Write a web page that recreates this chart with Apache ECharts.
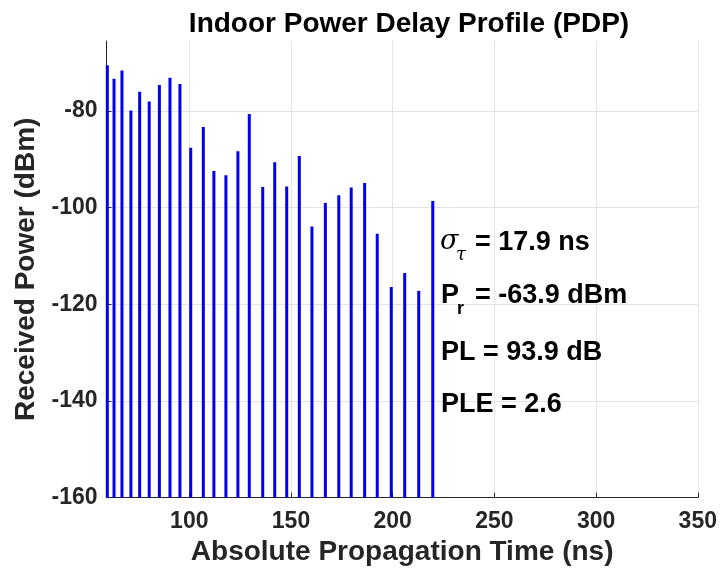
<!DOCTYPE html>
<html>
<head>
<meta charset="utf-8">
<title>Indoor Power Delay Profile (PDP)</title>
<script src="https://cdn.jsdelivr.net/npm/echarts@6/dist/echarts.min.js"></script>
<style>
  html, body { margin: 0; padding: 0; background: #fff; }
  #chart { width: 722px; height: 578px; }
</style>
</head>
<body>
<div id="chart"></div>
<script>
// multipath components
var delays = [59.7, 63.0, 66.9, 71.3, 75.6, 80.3, 85.3, 90.5, 95.4, 100.7,
  106.9, 112.1, 118.0, 123.9, 129.5, 136.1, 142.0, 147.9, 154.1, 160.3,
  166.9, 173.5, 179.6, 186.2, 192.4, 199.3, 205.9, 212.8, 219.7]
var powers = [-70.5, -73.3, -71.6, -79.9, -76.0, -78.0, -74.6, -73.1, -74.4, -87.6,
  -83.3, -92.4, -93.3, -88.3, -80.6, -95.7, -90.6, -95.6, -89.3, -103.9,
  -99.0, -97.4, -95.8, -94.9, -105.4, -116.4, -113.5, -117.2, -98.6]

var xTicks = [100, 150, 200, 250, 300, 350]
var yTicks = [-160, -140, -120, -100, -80]

var xMin = 59.3, xMax = 350
var yMin = -160, yMax = -65.5

var font = "'Liberation Sans', Arial, Helvetica, sans-serif"
var txt = '#262626'
var stemColor = '#0000ee'

var chart = echarts.init(document.getElementById('chart'))

chart.setOption({
  animation: false,
  title: {
    text: 'Indoor Power Delay Profile (PDP)',
    left: 404,
    top: 5,
    textAlign: 'center',
    textStyle: { fontFamily: font, fontSize: 28, fontWeight: 'bold', color: '#000' }
  },
  grid: { left: 106.5, right: 24.2, top: 41, bottom: 80.3, containLabel: false },
  xAxis: {
    type: 'value',
    min: xMin,
    max: xMax,
    name: 'Absolute Propagation Time (ns)',
    nameLocation: 'middle',
    nameGap: 41,
    nameTextStyle: { fontFamily: font, fontSize: 28, fontWeight: 'bold', color: txt },
    axisLine: { onZero: false, lineStyle: { color: txt, width: 1 } },
    axisTick: { inside: true, length: 5, customValues: xTicks, lineStyle: { color: txt } },
    axisLabel: {
      customValues: xTicks, margin: 12,
      fontFamily: font, fontSize: 23, fontWeight: 'bold', color: txt
    },
    splitLine: { show: true, lineStyle: { color: '#e3e3e3', width: 1 } }
  },
  yAxis: {
    type: 'value',
    min: yMin,
    max: yMax,
    name: 'Received Power (dBm)',
    nameLocation: 'middle',
    nameGap: 62,
    nameTextStyle: { fontFamily: font, fontSize: 28, fontWeight: 'bold', color: txt },
    axisLine: { show: true, onZero: false, lineStyle: { color: txt, width: 1 } },
    axisTick: { show: true, inside: true, length: 5, customValues: yTicks, lineStyle: { color: txt } },
    axisLabel: {
      customValues: yTicks, margin: 9,
      fontFamily: font, fontSize: 23, fontWeight: 'bold', color: txt
    },
    splitLine: { show: true, lineStyle: { color: '#e3e3e3', width: 1 } }
  },
  series: [{
    type: 'custom',
    data: delays.map(function (d, i) { return [d, powers[i]] }),
    encode: { x: 0, y: 1 },
    renderItem: function (params, api) {
      var top = api.coord([api.value(0), api.value(1)])
      var base = api.coord([api.value(0), yMin])
      return {
        type: 'line',
        shape: { x1: base[0], y1: base[1], x2: top[0], y2: top[1] },
        style: { stroke: stemColor, lineWidth: 3 }
      }
    }
  }],
  graphic: [
    // sigma_tau
    { type: 'text', z: 100, left: 440, top: 228, style: { text: 'σ', font: 'italic 27px "DejaVu Serif", serif', fill: '#000' } },
    { type: 'text', z: 100, left: 456, top: 246, style: { text: 'τ', font: 'italic 18px "DejaVu Serif", serif', fill: '#000' } },
    { type: 'text', z: 100, left: 475, top: 229, style: { text: '= 17.9 ns', font: 'bold 27px ' + font, fill: '#000' } },
    // P_r
    { type: 'text', z: 100, left: 441, top: 282, style: { text: 'P', font: 'bold 27px ' + font, fill: '#000' } },
    { type: 'text', z: 100, left: 457, top: 300, style: { text: 'r', font: 'bold 18px ' + font, fill: '#000' } },
    { type: 'text', z: 100, left: 475, top: 282, style: { text: '= -63.9 dBm', font: 'bold 27px ' + font, fill: '#000' } },
    { type: 'text', z: 100, left: 441, top: 339, style: { text: 'PL = 93.9 dB', font: 'bold 27px ' + font, fill: '#000' } },
    { type: 'text', z: 100, left: 441, top: 391, style: { text: 'PLE = 2.6', font: 'bold 27px ' + font, fill: '#000' } }
  ]
})
</script>
</body>
</html>
